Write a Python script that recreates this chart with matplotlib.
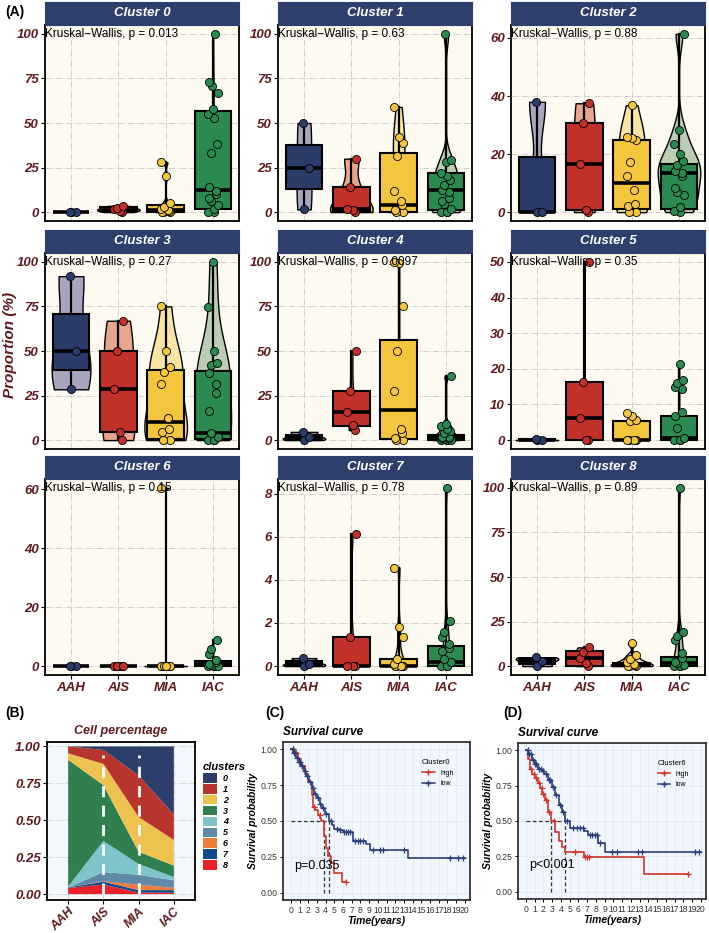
import numpy as np
import matplotlib
matplotlib.use('Agg')
import matplotlib.pyplot as plt
from matplotlib import cbook, mlab
from matplotlib.patches import Patch
from matplotlib.lines import Line2D

plt.rcParams['font.family'] = ['Liberation Sans', 'DejaVu Sans']

W, H = 709, 933

groups = ['AAH', 'AIS', 'MIA', 'IAC']
box_colors = ['#2B3C6B', '#C1312A', '#F4C63D', '#2A8A4F']
violin_colors = ['#A9A5BF', '#E8A58D', '#F8E4A3', '#BBCEB4']
tick_red = '#5E1B1E'
strip_navy = '#2E3F6E'

# ---- panel A: per-sample proportions (%) per cluster and group ----
kw_p = ['0.013', '0.63', '0.88', '0.27', '0.0097', '0.35', '0.15', '0.78', '0.89']
y_ticks = [[0, 25, 50, 75, 100], [0, 25, 50, 75, 100], [0, 20, 40, 60],
           [0, 25, 50, 75, 100], [0, 25, 50, 75, 100], [0, 10, 20, 30, 40, 50],
           [0, 20, 40, 60], [0, 2, 4, 6, 8], [0, 25, 50, 75, 100]]

pts_c0 = [[0, 0, 0],
          [0, 0.8, 1.5, 2.2, 3.5],
          [0, 0, 0, 0.5, 1, 2, 3, 5, 20, 28],
          [0, 0, 2, 4, 6, 8, 10, 12, 14, 33, 38, 53, 55, 58, 67, 71, 73, 100]]
box_c0 = [(0, 0, 0.2), (0.4, 1.2, 2.6), (0, 1, 4), (1.5, 12.5, 57)]

pts_c1 = [[1.5, 25, 50],
          [0, 1, 2, 14, 30],
          [0, 0, 1, 3.7, 6, 12, 31.5, 38.5, 42, 59],
          [0, 0, 0, 2, 4.6, 6, 7.8, 11, 12.6, 15, 18, 20, 22, 28, 29, 100]]
box_c1 = [(13, 25, 37.5), (0.5, 1.8, 14), (0.3, 3.7, 33.3), (1, 12.6, 22)]

pts_c2 = [[0, 0, 38],
          [0, 0.8, 16.5, 30.7, 37.5],
          [0, 0, 2, 2.8, 7.7, 12.5, 17.4, 25, 25.7, 26, 36.8],
          [0, 0.5, 1.7, 5.9, 7, 8.2, 12.5, 13.6, 14.2, 16.3, 17.6, 20, 23.6, 28.4, 61.4]]
box_c2 = [(0, 0, 19), (0.8, 16.5, 30.7), (1, 10, 24.8), (1.1, 13.5, 16.7)]

pts_c3 = [[28.5, 50, 92],
          [0, 4.4, 28.4, 50, 67],
          [0, 0, 4.6, 6.3, 12.4, 31.7, 38.2, 41.3, 50, 75],
          [0, 0, 0, 2, 3.7, 16.6, 26.6, 31.2, 37.6, 42.4, 43, 50, 74.5, 100]]
box_c3 = [(39.1, 50, 70.5), (4.4, 28.4, 50), (0.4, 10, 39.1), (0.4, 3.7, 38.7)]

pts_c4 = [[0, 1.5, 4.6],
          [5.6, 8.4, 15.8, 27.5, 50],
          [0, 0, 1, 3.7, 6, 27.5, 50, 75, 99.5, 100],
          [0, 0, 0, 0, 0.5, 1, 1, 2, 2, 3.7, 5.2, 6, 7.8, 9, 35.7]]
box_c4 = [(0.7, 1.5, 3), (8, 15.8, 27.5), (0.6, 16.7, 56.3), (0, 1.9, 2.8)]

pts_c5 = [[0, 0, 0.4],
          [0, 0, 6.1, 16.3, 50],
          [0, 0, 0, 0, 0, 0, 5.3, 5.7, 6.8, 7.6],
          [0, 0, 0, 0.6, 3.3, 6.7, 8, 14.3, 15, 15.9, 16.9, 21.3]]
box_c5 = [(0, 0, 0.2), (0, 6.1, 16.3), (0, 0.1, 5.4), (0, 0.7, 6.8)]

pts_c6 = [[0, 0, 0],
          [0, 0, 0, 0, 0],
          [0, 0, 0, 0, 0, 0, 0, 0.1, 0.2, 60.5],
          [0, 0, 0, 0.2, 0.4, 0.8, 1.3, 2.2, 4.1, 5.8, 8.9]]
box_c6 = [(0, 0, 0.05), (0, 0, 0.05), (0, 0, 0.2), (0, 0.8, 1.7)]

pts_c7 = [[0, 0.1, 0.37],
          [0, 0, 0, 1.36, 6.13],
          [0, 0, 0, 0, 0, 0.1, 0.34, 1.33, 1.83, 4.57],
          [0, 0, 0, 0.18, 0.34, 0.72, 0.84, 1.02, 1.33, 1.6, 2.09, 8.26]]
box_c7 = [(0.05, 0.1, 0.22), (0, 0, 1.36), (0, 0.02, 0.34), (0, 0.18, 0.91)]

pts_c8 = [[0, 3.1, 5],
          [0, 1.5, 4.4, 7.8, 10.5],
          [0, 0, 0, 0.4, 1, 2.2, 3.7, 6, 13],
          [0, 0, 0, 0.5, 1.9, 2.2, 4.6, 7.4, 14.8, 17, 19.3, 100]]
box_c8 = [(1.3, 2.8, 4.1), (0.2, 4.4, 8.7), (0, 0.4, 2), (0, 1.9, 5)]

all_pts = [pts_c0, pts_c1, pts_c2, pts_c3, pts_c4, pts_c5, pts_c6, pts_c7, pts_c8]
all_box = [box_c0, box_c1, box_c2, box_c3, box_c4, box_c5, box_c6, box_c7, box_c8]

# ---- panel B: cell fractions per stage ----
stages = groups
pct_c0 = [0.000, 0.024, 0.196, 0.462]
pct_c1 = [0.047, 0.094, 0.282, 0.171]
pct_c2 = [0.043, 0.144, 0.235, 0.174]
pct_c3 = [0.860, 0.378, 0.083, 0.077]
pct_c4 = [0.005, 0.211, 0.073, 0.023]
pct_c5 = [0.000, 0.062, 0.067, 0.051]
pct_c6 = [0.000, 0.003, 0.037, 0.015]
pct_c7 = [0.003, 0.020, 0.016, 0.018]
pct_c8 = [0.042, 0.064, 0.011, 0.009]
cluster_names = [str(i) for i in range(9)]
cluster_colors = ['#2D3E6B', '#B8352E', '#EDC24E', '#2F7F4F', '#7DC5CB',
                  '#6288A8', '#EE7B3A', '#144A8C', '#E8212A']

# ---- panels C/D: Kaplan-Meier steps ----
c_low_t = [0, 0.3, 0.6, 0.9, 1.2, 1.5, 1.8, 2.1, 2.4, 2.7, 3.0, 3.3, 3.6, 3.9, 4.37,
           4.7, 5.0, 5.5, 6.0, 7.2, 8.6, 9.1, 13.5]
c_low_s = [1.0, 0.97, 0.94, 0.91, 0.88, 0.85, 0.81, 0.77, 0.73, 0.69, 0.66, 0.62, 0.59,
           0.55, 0.50, 0.47, 0.445, 0.435, 0.42, 0.36, 0.34, 0.30, 0.24]
c_low_end = 20
c_low_cens = [0.2, 0.4, 0.5, 0.7, 0.9, 1.1, 1.3, 1.6, 1.9, 2.2, 2.5, 2.8, 3.1, 3.4, 3.7,
              4.1, 4.6, 5.3, 5.7, 6.1, 6.3, 6.6, 6.8, 7.4, 7.7, 8.0, 8.3, 9.5, 10.2, 10.6,
              13.0, 18.3, 19.2, 19.8]
c_high_t = [0, 0.4, 0.8, 1.2, 1.6, 2.0, 2.38, 2.6, 2.76, 3.14, 3.35, 3.52, 3.83, 4.1,
            4.29, 4.67, 4.94, 5.94]
c_high_s = [1.0, 0.97, 0.93, 0.88, 0.83, 0.77, 0.683, 0.60, 0.579, 0.544, 0.52, 0.502,
            0.394, 0.3125, 0.259, 0.208, 0.139, 0.074]
c_high_end = 6.4
c_high_cens = [0.3, 0.6, 1.3, 2.7, 3.3, 6.4]

d_low_t = [0, 0.3, 0.66, 1.0, 1.4, 1.8, 2.1, 2.5, 2.98, 3.3, 3.76, 4.1, 4.53, 5.1, 6.7,
           7.1, 8.3, 9.1]
d_low_s = [1.0, 0.97, 0.93, 0.90, 0.87, 0.85, 0.83, 0.79, 0.74, 0.68, 0.616, 0.56, 0.50,
           0.453, 0.43, 0.40, 0.344, 0.28]
d_low_end = 20
d_low_cens = [0.2, 0.4, 0.6, 0.8, 1.0, 1.2, 1.5, 1.7, 2.0, 2.3, 2.6, 2.8, 3.1, 3.5, 3.9,
              4.3, 4.7, 5.4, 5.8, 6.2, 6.5, 7.3, 7.6, 7.9, 8.1, 8.5, 9.8, 10.4, 12.8, 13.3,
              19.3, 19.8]
d_high_t = [0, 0.27, 0.47, 0.75, 1.05, 1.35, 1.63, 1.9, 2.2, 2.5, 2.9, 3.37, 3.76, 4.15,
            4.42, 6.6, 13.5]
d_high_s = [1.0, 0.94, 0.87, 0.83, 0.80, 0.765, 0.73, 0.69, 0.65, 0.56, 0.5, 0.42, 0.36,
            0.314, 0.28, 0.244, 0.123]
d_high_end = 18.5
d_high_cens = [0.6, 0.9, 1.2, 1.5, 1.8, 2.0, 2.3, 2.6, 3.2, 5.6, 6.8, 7.0, 7.2, 18.5]

km_red = '#D2332A'
km_blue = '#2B3F78'


def px_axes(fig, left, top, width, height):
    return fig.add_axes([left / W, 1 - (top + height) / H, width / W, height / H])


def nrd0_factor(x):
    # bandwidth like R's bw.nrd0, expressed as factor of the std
    sd = np.std(x, ddof=1)
    q75, q25 = np.percentile(x, [75, 25])
    lo = min(sd, (q75 - q25) / 1.34)
    if lo <= 0:
        lo = sd
    return 0.9 * lo * len(x) ** -0.2 / sd


def kde(x, coords):
    return mlab.GaussianKDE(x, nrd0_factor(x)).evaluate(coords)


def draw_cluster(ax, pts, boxes, ticks, p):
    ax.set_facecolor('#FDFAF2')
    ymax = max(max(g) for g in pts)
    ax.set_xlim(0.45, 4.55)
    ax.set_ylim(-0.05 * ymax, 1.05 * ymax)
    ax.grid(True, color='#CFCFCF', linestyle='-.', linewidth=0.7, zorder=0)
    ax.set_axisbelow(True)

    # violins scaled by area (common density scale)
    keep = [i for i, g in enumerate(pts) if np.ptp(g) > 0]
    vstats = cbook.violin_stats([np.array(pts[i], float) for i in keep], kde)
    peaks = [s['vals'].max() for s in vstats]
    parts = ax.violin(vstats, positions=[i + 1 for i in keep],
                      widths=[0.9 * pk / max(peaks) for pk in peaks],
                      showextrema=False)
    for body, i in zip(parts['bodies'], keep):
        body.set_facecolor(violin_colors[i])
        body.set_edgecolor('black')
        body.set_linewidth(1.0)
        body.set_alpha(1)
        body.set_zorder(2)

    bstats = [dict(q1=b[0], med=b[1], q3=b[2], whislo=min(g), whishi=max(g), fliers=[])
              for b, g in zip(boxes, pts)]
    bp = ax.bxp(bstats, positions=range(1, 5), widths=0.78, patch_artist=True,
                showcaps=False, showfliers=False,
                whiskerprops=dict(color='black', linewidth=1.6, zorder=3),
                medianprops=dict(color='black', linewidth=2.6, zorder=4))
    for patch, c in zip(bp['boxes'], box_colors):
        patch.set_facecolor(c)
        patch.set_edgecolor('black')
        patch.set_linewidth(1.5)
        patch.set_zorder(3)

    for i, g in enumerate(pts):
        n = len(g)
        jit = 0.1 * np.sin(1.7 * np.arange(n) + i)
        ax.scatter(i + 1 + jit, g, s=34, color=box_colors[i], edgecolors='black',
                   linewidths=0.6, zorder=5)

    ax.text(0.45, ymax, 'Kruskal\u2212Wallis, p = ' + p, ha='left', va='center',
            fontsize=8.5, color='black', zorder=6)
    ax.set_yticks(ticks)
    ax.set_yticklabels([str(t) for t in ticks], fontsize=9.5, fontweight='bold',
                       fontstyle='italic', color=tick_red)
    ax.set_xticks(range(1, 5))
    ax.tick_params(axis='y', length=3, width=0.8, pad=1.5)
    for sp in ax.spines.values():
        sp.set_linewidth(1.3)
        sp.set_color('black')


fig = plt.figure(figsize=(W / 100, H / 100), dpi=100)

col_left = [45, 278, 511]
strip_top = [2, 230, 456]
col_w = 194
strip_h = 23
plot_h = 196

for k in range(9):
    r, c = divmod(k, 3)
    ax = px_axes(fig, col_left[c], strip_top[r] + strip_h, col_w, plot_h)
    draw_cluster(ax, all_pts[k], all_box[k], y_ticks[k], kw_p[k])
    if r == 2:
        ax.set_xticklabels(groups, fontsize=9.5, fontweight='bold', fontstyle='italic',
                           color=tick_red)
        ax.tick_params(axis='x', length=3, width=0.8, pad=2)
    else:
        ax.tick_params(axis='x', length=0, labelbottom=False)
    sax = px_axes(fig, col_left[c], strip_top[r], col_w, strip_h)
    sax.set_facecolor(strip_navy)
    sax.set_xticks([])
    sax.set_yticks([])
    for sp in sax.spines.values():
        sp.set_color(strip_navy)
    sax.text(0.5, 0.5, 'Cluster %d' % k, transform=sax.transAxes, ha='center',
             va='center', color='white', fontsize=9.5, fontweight='bold',
             fontstyle='italic')

fig.text(10 / W, 1 - 345 / H, 'Proportion (%)', rotation=90, ha='center', va='center',
         fontsize=11, fontweight='bold', fontstyle='italic', color=tick_red)

# ---- panel B ----
axb = px_axes(fig, 47, 742, 148, 158)
axb.set_facecolor('#F4F8FD')
xb = np.arange(1, 5)
layers = [pct_c8, pct_c7, pct_c6, pct_c5, pct_c4, pct_c3, pct_c2, pct_c1, pct_c0]
axb.stackplot(xb, layers, colors=cluster_colors[::-1], zorder=2)
axb.vlines([2, 3], 0.0, 0.94, colors='white', linestyles=(0, (4, 3)), linewidth=2,
           zorder=3)
axb.set_xlim(0.4, 4.6)
axb.set_ylim(-0.04, 1.03)
axb.grid(True, color='#D4D4D4', linestyle='-.', linewidth=0.6, zorder=0)
axb.set_axisbelow(True)
axb.set_xticks(xb)
axb.set_xticklabels(stages, rotation=45, ha='right', rotation_mode='anchor',
                    fontsize=9, fontweight='bold', fontstyle='italic', color=tick_red)
axb.set_yticks([0, 0.25, 0.5, 0.75, 1.0])
axb.set_yticklabels(['0.00', '0.25', '0.50', '0.75', '1.00'], fontsize=9.5,
                    fontweight='bold', fontstyle='italic', color=tick_red)
axb.tick_params(length=3, width=0.8, pad=1.5)
axb.tick_params(axis='x', pad=1)
for sp in axb.spines.values():
    sp.set_linewidth(1.3)
axb.set_title('Cell percentage', fontsize=9, fontweight='bold', fontstyle='italic',
              color=tick_red, pad=6)
handles = [Patch(facecolor=cc, edgecolor='none') for cc in cluster_colors]
leg = fig.legend(handles, cluster_names, title='clusters', loc='upper left',
                 bbox_to_anchor=(203 / W, 1 - 762 / H), frameon=False, borderpad=0,
                 borderaxespad=0, handlelength=1.6, handleheight=1.25,
                 labelspacing=0.12, handletextpad=0.6, alignment='left',
                 prop=dict(size=6.5, weight='bold', style='italic'),
                 title_fontproperties=dict(size=8, weight='bold', style='italic'))


# ---- panels C, D ----
def surv_at(t, s, x):
    idx = np.searchsorted(t, x, side='right') - 1
    return np.asarray(s)[idx]


def draw_km(ax, curves, legend_title, ptxt):
    ax.set_facecolor('#F1F7FD')
    meds = []
    for t, s, end, cens, color in curves:
        t = np.asarray(t)
        s = np.asarray(s)
        ax.step(np.append(t, end), np.append(s, s[-1]), where='post', color=color,
                linewidth=1.2, zorder=3)
        cens = np.asarray(cens)
        ax.plot(cens, surv_at(t, s, cens), '+', color=color, markersize=5,
                markeredgewidth=0.9, zorder=4)
        meds.append(t[np.argmax(s <= 0.5)])
    ax.hlines(0.5, 0, max(meds), colors='#333333', linestyles=(0, (3, 2)),
              linewidth=0.9, zorder=2)
    ax.vlines(meds, 0, 0.5, colors='#333333', linestyles=(0, (3, 2)), linewidth=0.9,
              zorder=2)
    ax.set_xlim(-0.9, 20.6)
    ax.set_ylim(-0.05, 1.05)
    ax.set_xticks(range(21))
    ax.set_xticklabels([str(i) for i in range(21)], fontsize=6.2, color='#333333')
    ax.set_yticks([0, 0.25, 0.5, 0.75, 1.0])
    ax.set_yticklabels(['0.00', '0.25', '0.50', '0.75', '1.00'], fontsize=6.2,
                       color='#333333')
    ax.tick_params(length=2.5, width=0.7, pad=1.5)
    ax.grid(True, color='#DCE7F4', linewidth=0.5, zorder=0)
    ax.set_axisbelow(True)
    for sp in ax.spines.values():
        sp.set_linewidth(1.2)
        sp.set_color('#222222')
    ax.set_title('Survival curve', loc='left', fontsize=8.5, fontweight='bold',
                 fontstyle='italic', pad=5)
    ax.set_xlabel('Time(years)', fontsize=7.5, fontweight='bold', fontstyle='italic',
                  labelpad=1)
    ax.set_ylabel('Survival probability', fontsize=7.5, fontweight='bold',
                  fontstyle='italic', labelpad=2)
    ax.text(0.35, 0.19, ptxt, fontsize=9, va='center', ha='left', zorder=5)
    hs = [Line2D([], [], color=km_red, marker='+', markersize=4, linewidth=1.1),
          Line2D([], [], color=km_blue, marker='+', markersize=4, linewidth=1.1)]
    ax.legend(hs, ['high', 'low'], title=legend_title, loc='upper left',
              bbox_to_anchor=(0.71, 0.93), frameon=False, fontsize=5,
              title_fontsize=5.5, handlelength=1.8, labelspacing=0.5, alignment='left')


axc = px_axes(fig, 283, 742, 187, 158)
draw_km(axc, [(c_high_t, c_high_s, c_high_end, c_high_cens, km_red),
              (c_low_t, c_low_s, c_low_end, c_low_cens, km_blue)], 'Cluster0', 'p=0.035')

axd = px_axes(fig, 518, 743, 188, 156)
draw_km(axd, [(d_high_t, d_high_s, d_high_end, d_high_cens, km_red),
              (d_low_t, d_low_s, d_low_end, d_low_cens, km_blue)], 'Cluster6', 'p<0.001')

for lab, x, y in [('(A)', 5, 12), ('(B)', 5, 713), ('(C)', 265, 713), ('(D)', 503, 713)]:
    fig.text(x / W, 1 - y / H, lab, fontsize=10, fontweight='bold', va='center',
             ha='left')

fig.savefig('out.png', dpi=100)
